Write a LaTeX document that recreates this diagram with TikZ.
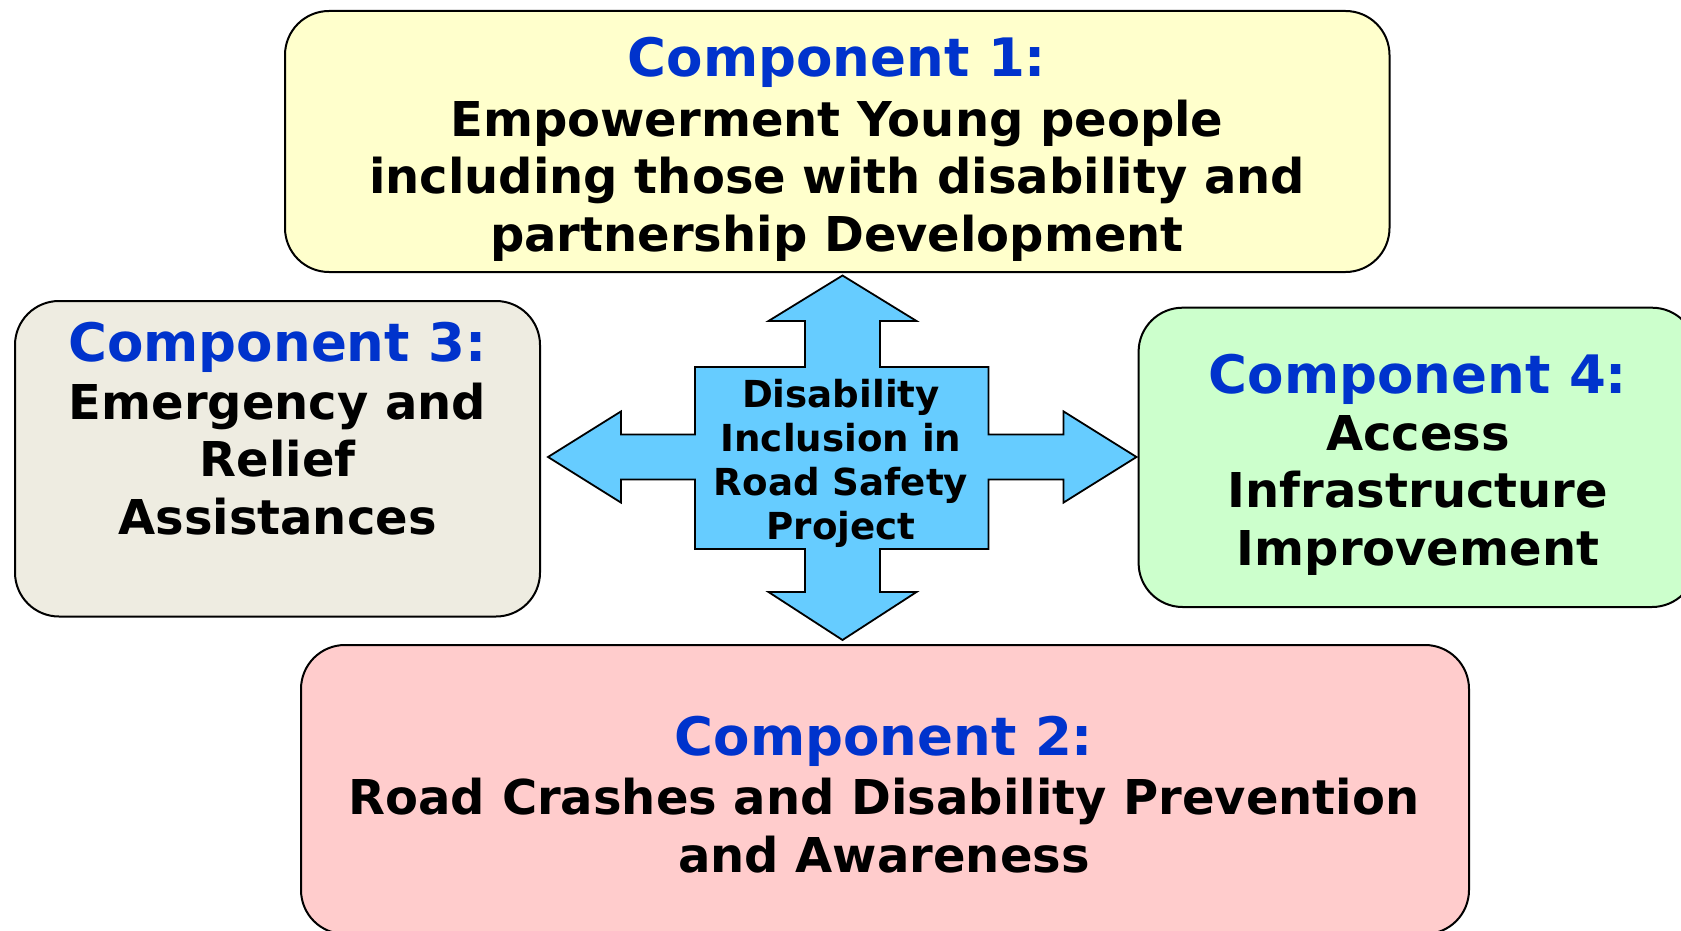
\documentclass[tikz,border=0pt]{standalone}
\usepackage{fontspec}
\setmainfont{DejaVu Sans}
\definecolor{ttlblue}{HTML}{0033CC}
\definecolor{yel}{HTML}{FFFFCC}
\definecolor{beige}{HTML}{EEECE1}
\definecolor{grn}{HTML}{CCFFCC}
\definecolor{pnk}{HTML}{FFCCCC}
\definecolor{sky}{HTML}{66CCFF}
\begin{document}
\begin{tikzpicture}[x=0.5pt,y=-0.5pt,
  compbox/.style={draw=black,line width=1pt,rounded corners=22pt,inner sep=0pt},
  ttl/.style={font=\fontsize{26.5}{30}\selectfont\bfseries,text=ttlblue,anchor=base,inner sep=0pt},
  body/.style={font=\fontsize{24}{28.7}\selectfont\bfseries,align=center,anchor=base,inner sep=0pt},
  ctext/.style={font=\fontsize{18.6}{22}\selectfont\bfseries,align=center,anchor=base,inner sep=0pt}]
\useasboundingbox (0,0) rectangle (1681,931);
\clip (0,0) rectangle (1681,931);
% boxes
\node[compbox,fill=yel,minimum width=552.25pt,minimum height=130.5pt] (c1) at (837.25,141.5) {};
\node[compbox,fill=beige,minimum width=262.5pt,minimum height=157.75pt] (c3) at (277.5,458.75) {};
\node[compbox,fill=grn,minimum width=278.7pt,minimum height=149.65pt] (c4) at (1417.3,457.35) {};
\node[compbox,fill=pnk,minimum width=584pt,minimum height=144.5pt] (c2) at (885,789.5) {};
% cross
\draw[fill=sky,line width=0.9pt,line join=miter]
 (842.5,275.5) -- (916.5,321) -- (880,321) -- (880,367) -- (988.5,367) -- (988.5,434.5)
 -- (1063.5,434.5) -- (1063.5,411.4) -- (1136.5,457) -- (1063.5,502.6) -- (1063.5,479.5)
 -- (988.5,479.5) -- (988.5,549) -- (880,549) -- (880,592) -- (916.5,592) -- (842.5,640)
 -- (768.5,592) -- (805,592) -- (805,549) -- (695,549) -- (695,479.5) -- (621,479.5)
 -- (621,502.6) -- (548,457) -- (621,411.4) -- (621,434.5) -- (695,434.5) -- (695,367)
 -- (805,367) -- (805,321) -- (768.5,321) -- cycle;
% texts (anchor=base is the baseline of the last line)
\node[ttl] (t1) at (837,77) {Component 1:};
\node[body] (b1) at (837,251) {Empowerment Young people\\including those with disability and\\partnership Development};
\node[ttl] (t3) at (277.5,361) {Component 3:};
\node[body] (b3) at (277.5,534) {Emergency and\\Relief\\Assistances};
\node[ttl] (t4) at (1418,393) {Component 4:};
\node[body] (b4) at (1418,565) {Access\\Infrastructure\\Improvement};
\node[ttl] (t2) at (884,755) {Component 2:};
\node[body] (b2) at (884,872) {Road Crashes and Disability Prevention\\and Awareness};
\node[ctext] (ct) at (841,539) {Disability\\Inclusion in\\Road Safety\\Project};
\end{tikzpicture}
\end{document}
